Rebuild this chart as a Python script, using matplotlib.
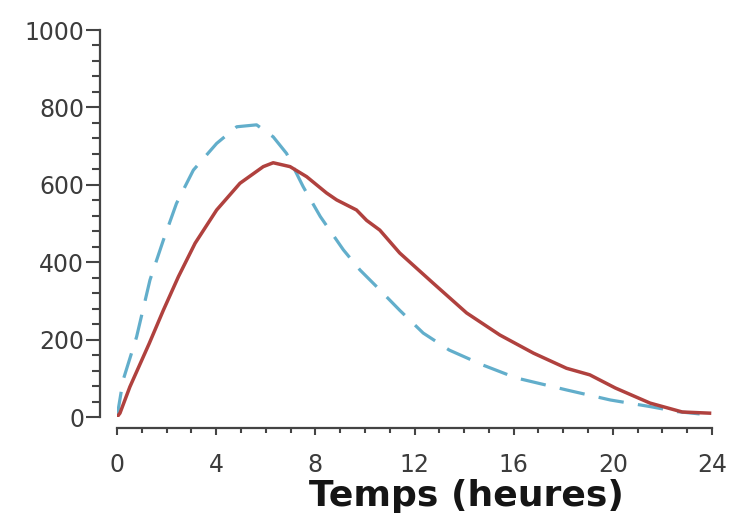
import matplotlib
matplotlib.use('Agg')
import matplotlib.pyplot as plt
from matplotlib.ticker import MultipleLocator

# concentration curves over 24 h
t_red = [0, 0.12, 0.52, 1.3, 1.87, 2.48, 3.15, 4.02, 4.96, 5.9, 6.3, 6.98, 7.65, 8.45,
         8.86, 9.66, 10.07, 10.6, 11.4, 12.75, 14.1, 15.44, 16.8, 18.13, 19.07, 20.1,
         21.5, 22.8, 23.9]
c_red = [0, 10, 78, 190, 276, 363, 449, 535, 604, 647, 657, 647, 621, 579,
         561, 535, 508, 483, 424, 346, 269, 212, 165, 126, 109, 75,
         36, 13, 10]

t_blue = [0, 0.25, 0.79, 1.33, 1.87, 2.4, 3.08, 4.02, 4.83, 5.63, 6.3, 6.84, 7.51, 8.2,
          9.13, 9.8, 10.47, 11.4, 12.35, 13.4, 14.77, 16.1, 18.13, 19.9, 21.5, 22.6, 23.5]
c_blue = [0, 96, 207, 354, 457, 552, 638, 707, 750, 755, 724, 681, 595, 518,
          432, 380, 337, 276, 217, 173, 134, 101, 70, 44, 27, 14, 8]

xticks = [0, 4, 8, 12, 16, 20, 24]
yticks = [0, 200, 400, 600, 800, 1000]

fig = plt.figure(figsize=(7.33, 5.22), dpi=100)
ax = fig.add_axes([0.1596, 0.2011, 0.8118, 0.7414])

ax.plot(t_blue, c_blue, color='#62aecb', lw=2.3, dashes=(8, 4.5),
        dash_capstyle='butt', dash_joinstyle='round')
ax.plot(t_red, c_red, color='#b0413e', lw=2.5, solid_joinstyle='round')

ax.set_xlim(0, 24)
ax.set_ylim(0, 1000)

for s in ['top', 'right']:
    ax.spines[s].set_visible(False)
ax.spines['left'].set_position(('outward', 12))
ax.spines['bottom'].set_position(('outward', 8))
ax.spines['left'].set_bounds(0, 1000)
ax.spines['bottom'].set_bounds(0, 24)
for s in ['left', 'bottom']:
    ax.spines[s].set_linewidth(1.6)
    ax.spines[s].set_color('#444444')

ax.set_xticks(xticks)
ax.set_yticks(yticks)
ax.xaxis.set_minor_locator(MultipleLocator(1))
ax.yaxis.set_minor_locator(MultipleLocator(40))

ax.tick_params(axis='y', which='major', direction='out', length=10, width=1.5,
               color='#444444', pad=1.5, labelsize=17, labelcolor='#3c3c3c')
ax.tick_params(axis='y', which='minor', direction='out', length=6, width=1.5, color='#444444')
ax.tick_params(axis='x', which='major', direction='out', length=5, width=1.5,
               color='#444444', pad=13, labelsize=17, labelcolor='#3c3c3c')
ax.tick_params(axis='x', which='minor', direction='out', length=3.5, width=1.5, color='#444444')

ax.set_xlabel('Temps (heures)', fontsize=26, fontweight='bold', color='#151515')
ax.xaxis.set_label_coords(0.588, -0.205)
ax.xaxis.label.set_va('center')

fig.savefig('out.png', dpi=100)
